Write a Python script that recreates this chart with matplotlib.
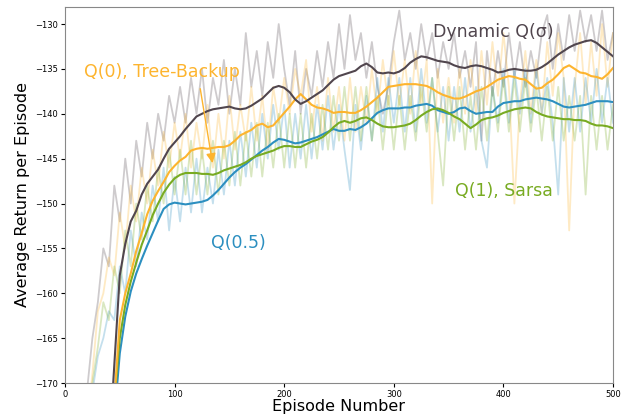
import numpy as np
import matplotlib.pyplot as plt

# episodes for the raw per-episode returns and for the running averages
raw_eps = np.arange(15, 501, 5)
avg_eps = np.arange(40, 501, 5)

# raw returns
dyn_raw = [-176, -171, -165, -161, -155, -157, -148, -152, -145, -150, -143, -147, -141, -145, -140, -143,
           -138, -141, -137, -141, -136, -140, -135, -141, -136, -139, -134, -140, -135, -139, -131, -137,
           -133, -138, -132, -136, -130, -135, -139, -133, -140, -135, -138, -133, -137, -132, -136, -130,
           -135, -129, -134, -131, -136, -132, -137, -140, -137, -132, -128.5, -134, -131, -135, -130, -134,
           -131, -136, -132, -135, -131, -136, -133, -137, -132, -143, -133, -138, -133, -137, -131, -136,
           -132, -137, -133, -136, -131, -129, -135, -130, -134, -129, -133, -128.5, -132, -129, -133, -128.5,
           -134, -131]
tb_raw = [-180, -175, -169, -162, -160, -156, -158, -151, -155, -148, -152, -146, -150, -144, -148, -142,
          -146, -141, -145, -140, -146, -141, -145, -139, -146, -140, -145, -138, -144, -139, -143, -137,
          -143, -138, -144, -137, -141, -136, -140, -135, -138, -134, -142, -137, -143, -136, -142, -137,
          -143, -136, -142, -137, -141, -135, -140, -134, -139, -133, -139, -134, -140, -133, -139, -134,
          -150, -135, -141, -136, -141, -135, -140, -134, -140, -133, -139, -132, -138, -131, -137, -150,
          -139, -133, -140, -134, -140, -132, -138, -131, -136, -153, -137, -131, -139, -132, -138, -130,
          -137, -131]
half_raw = [-182, -176, -171, -167, -165, -162, -163, -157, -160, -153, -157, -151, -154, -148, -152, -146,
            -153, -147, -152, -146, -151, -145, -151, -146, -150, -144, -149, -143, -148, -142, -147, -141,
            -146, -140, -145, -139, -144, -139, -146, -140, -145, -139, -145, -139, -144, -138, -144, -139,
            -144, -148.5, -139, -144, -138, -143, -136, -142, -136, -141, -136, -142, -136, -142, -135, -141,
            -136, -142, -137, -143, -137, -142, -136, -142, -137, -143, -146, -137, -141, -135, -141, -135,
            -140, -135, -141, -135, -140, -136, -141, -149, -136, -142, -136, -142, -136, -141, -135, -141,
            -136, -141]
sarsa_raw = [-181, -175, -170, -166, -161, -163, -157, -160, -153, -157, -150, -154, -148, -152, -146, -150,
             -144, -149, -144, -149, -143, -149, -144, -149, -143, -149, -143, -148, -142, -148, -142, -147,
             -141, -147, -141, -146, -140, -146, -140, -146, -140, -146, -140, -145, -139, -144, -138, -143,
             -137, -143, -137, -143, -137, -143, -138, -144, -138, -144, -138, -144, -138, -143, -137, -142,
             -136, -142, -148, -137, -143, -137, -144, -138, -144, -137, -143, -137, -142, -136, -142, -136,
             -142, -136, -142, -137, -143, -137, -143, -137, -143, -138, -143, -138, -149, -138, -144, -138,
             -144, -139]

# running averages
dyn_avg = [-178, -168, -158, -154.5, -152, -150.8, -149, -147.8, -147, -146.2, -145, -143.9, -143.2, -142.5,
           -141.7, -141, -140.3, -140, -139.7, -139.5, -139.4, -139.3, -139.2, -139.4, -139.5, -139.4, -139.1,
           -138.7, -138.3, -137.7, -137.1, -136.9, -137.1, -137.6, -138.4, -138.9, -138.6, -138.2, -137.8,
           -137.4, -136.8, -136.2, -135.8, -135.6, -135.4, -135.2, -134.7, -134.4, -134.8, -135.4, -135.5,
           -135.4, -135.5, -135.3, -134.9, -134.3, -133.9, -133.6, -133.7, -133.9, -134.1, -134.2, -134.3,
           -134.6, -134.8, -134.9, -134.7, -134.6, -134.7, -134.9, -135.1, -135.4, -135.3, -135.1, -135,
           -135.1, -135.2, -135.2, -135.1, -134.8, -134.4, -133.9, -133.4, -133, -132.6, -132.3, -132.1,
           -131.9, -131.8, -132.1, -132.6, -133.1, -133.6]
tb_avg = [-180, -172, -163, -160, -157.8, -155.3, -153.3, -151.2, -149.7, -148.6, -147.6, -146.5, -145.8,
          -145.2, -144.8, -144.1, -143.9, -143.8, -143.9, -143.8, -143.7, -143.7, -143.5, -143, -142.4, -142.1,
          -141.8, -141.3, -141.1, -141.5, -141.3, -140.6, -139.9, -139.2, -138.4, -137.8, -138.4, -139, -139.3,
          -139.4, -139.6, -139.9, -139.8, -139.8, -139.9, -139.9, -139.6, -139.2, -138.7, -138.2, -137.6, -137,
          -136.9, -136.8, -136.7, -136.7, -136.7, -136.8, -136.9, -137.2, -137.6, -137.9, -138.1, -138.3,
          -138.3, -138.1, -137.8, -137.5, -137.3, -137, -136.6, -136.2, -136, -135.8, -135.9, -136.1, -136.2,
          -136.7, -137.2, -137.1, -136.6, -136.2, -135.6, -134.9, -134.6, -135, -135.4, -135.5, -135.8, -135.9,
          -136.1, -135.6, -134.9]
half_avg = [-188, -174, -166.7, -162.6, -159.8, -157.8, -156.2, -154.7, -153.3, -151.9, -150.6, -150.1, -149.9,
            -150, -150.1, -150, -149.9, -149.8, -149.6, -149.1, -148.5, -147.8, -147.1, -146.5, -146, -145.6,
            -145.1, -144.6, -144.1, -143.7, -143.2, -142.8, -142.9, -143.1, -143.3, -143.2, -143, -142.8, -142.6,
            -142.3, -142, -141.7, -141.9, -141.9, -141.7, -141.8, -141.5, -141.1, -140.5, -139.9, -139.6, -139.4,
            -139.4, -139.4, -139.3, -139.3, -139.1, -139, -138.9, -139.1, -139.6, -139.8, -140, -139.8, -139.4,
            -139.3, -139.7, -140, -139.9, -139.8, -139.8, -139.2, -138.8, -138.7, -138.6, -138.6, -138.4, -138.3,
            -138.2, -138.3, -138.4, -138.6, -138.9, -139.2, -139.3, -139.2, -139.1, -139, -138.8, -138.6, -138.6,
            -138.6, -138.7]
sarsa_avg = [-185, -172, -165, -161.3, -158.7, -156.6, -154.6, -153, -151.3, -150, -148.8, -147.9, -147.2,
             -146.8, -146.6, -146.6, -146.6, -146.7, -146.7, -146.8, -146.6, -146.3, -146.1, -145.9, -145.7,
             -145.4, -145, -144.7, -144.5, -144.3, -144.1, -143.8, -143.6, -143.6, -143.7, -143.7, -143.4, -143.1,
             -142.9, -142.6, -142.1, -141.5, -141, -140.8, -141, -140.8, -140.5, -140.4, -140.7, -141.1, -141.4,
             -141.5, -141.5, -141.4, -141.3, -141.1, -140.7, -140.2, -139.8, -139.5, -139.4, -139.6, -139.9,
             -140.3, -140.6, -141.1, -141.6, -141.2, -140.7, -140.5, -140.4, -140.2, -139.9, -139.7, -139.5,
             -139.4, -139.3, -139.4, -139.8, -140.1, -140.3, -140.4, -140.5, -140.6, -140.6, -140.7, -140.7,
             -140.8, -141.1, -141.3, -141.3, -141.4, -141.6]

c_dyn = '#51464e'
c_tb = '#fdb42e'
c_half = '#2c8fc0'
c_sarsa = '#78ab22'

fig = plt.figure(figsize=(6.29, 4.18), dpi=100)
ax = fig.add_axes([0.1033, 0.0837, 0.8713, 0.8996])

for raw, c in [(dyn_raw, c_dyn), (tb_raw, c_tb), (half_raw, c_half), (sarsa_raw, c_sarsa)]:
    ax.plot(raw_eps, raw, color=c, lw=1.3, alpha=0.28)

ax.plot(avg_eps, half_avg, color=c_half, lw=1.5)
ax.plot(avg_eps, sarsa_avg, color=c_sarsa, lw=1.5)
ax.plot(avg_eps, tb_avg, color=c_tb, lw=1.5)
ax.plot(avg_eps, dyn_avg, color=c_dyn, lw=1.5)

ax.text(336, -130.9, 'Dynamic Q(σ)', color=c_dyn, fontsize=12.5, va='center')
ax.text(17, -135.4, 'Q(0), Tree-Backup', color=c_tb, fontsize=12.5, va='center')
ax.text(356, -148.6, 'Q(1), Sarsa', color=c_sarsa, fontsize=12.5, va='center')
ax.text(133, -154.4, 'Q(0.5)', color=c_half, fontsize=12.5, va='center')
ax.annotate('', xy=(135, -145.8), xytext=(123, -136.9),
            arrowprops=dict(arrowstyle='-|>', color=c_tb, lw=1, mutation_scale=14))

ax.set_xlim(0, 500)
ax.set_ylim(-170, -128.1)
ax.set_yticks(np.arange(-170, -129, 5))
ax.tick_params(labelsize=6, length=3, width=0.8, pad=2)
for s in ax.spines.values():
    s.set_color('#888888')
ax.set_xlabel('Episode Number', fontsize=11.5, labelpad=0)
ax.set_ylabel('Average Return per Episode', fontsize=11.5, labelpad=4)

fig.savefig('out.png', dpi=100)
